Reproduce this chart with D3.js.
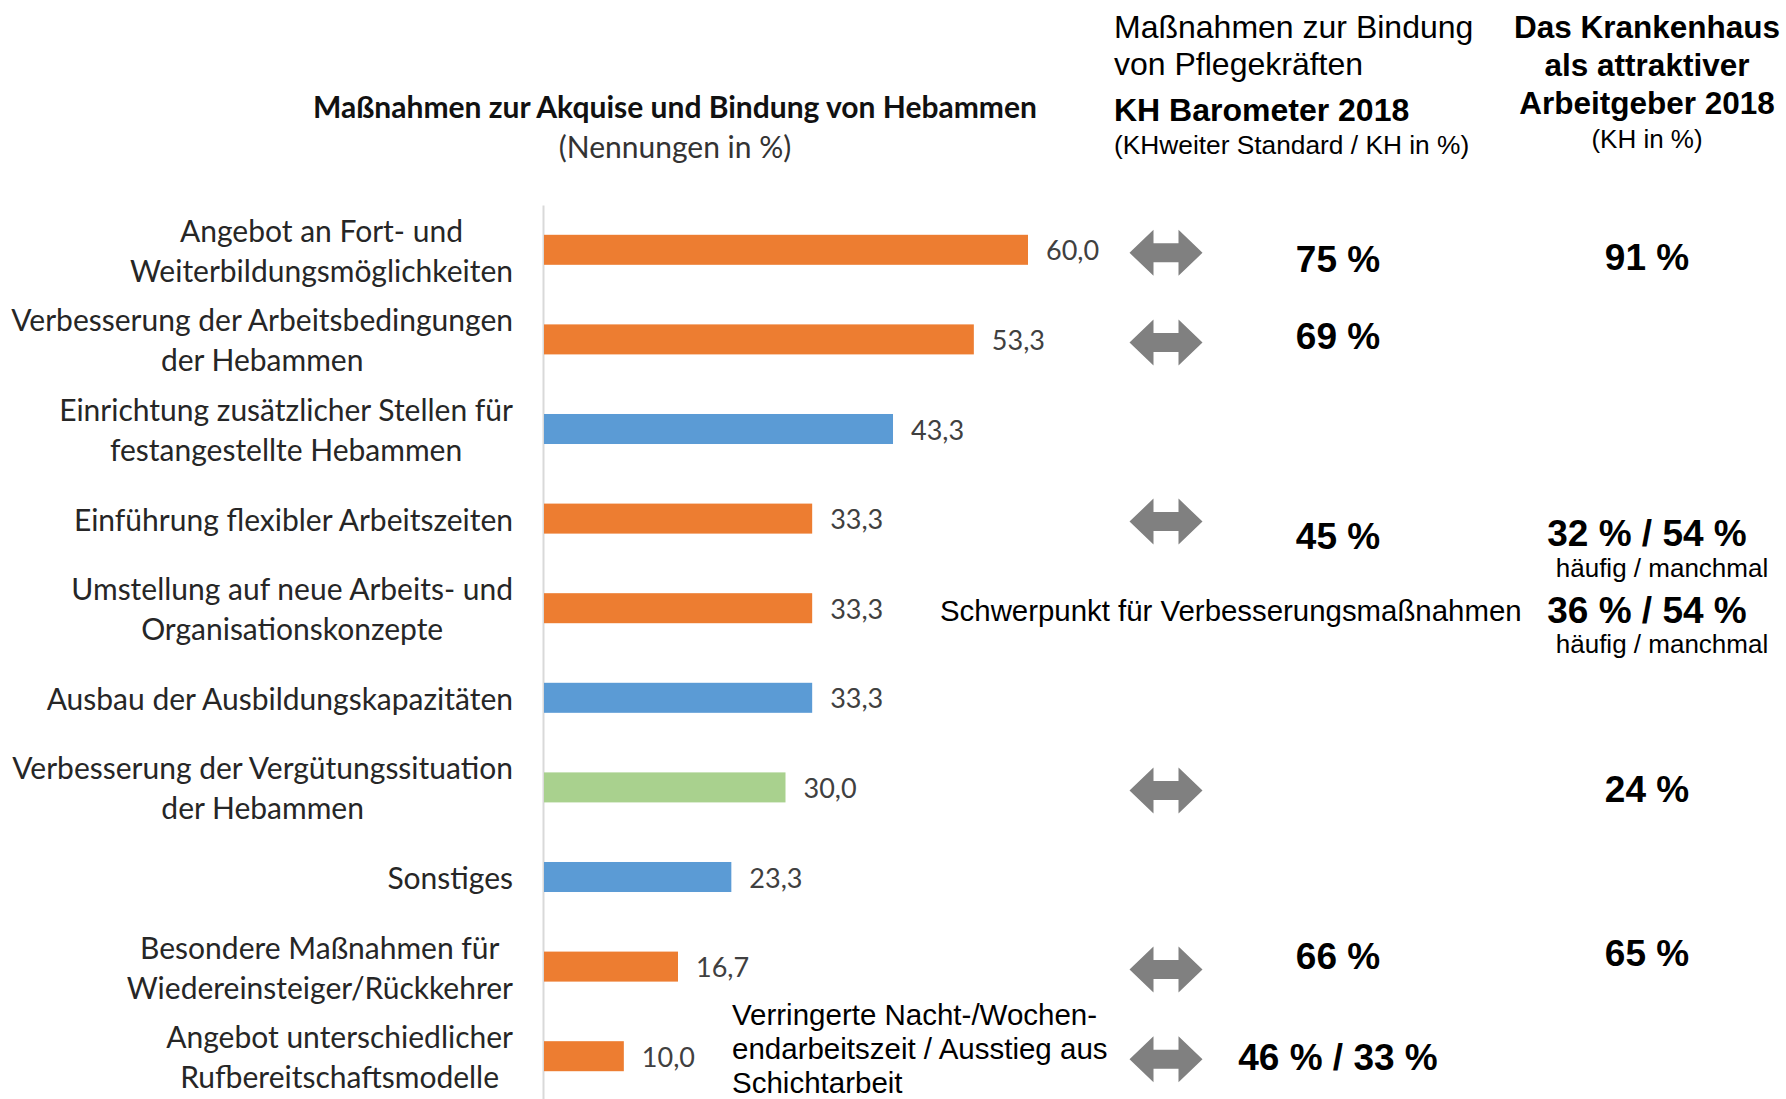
<!DOCTYPE html>
<html lang="de">
<head>
<meta charset="utf-8">
<title>Maßnahmen zur Akquise und Bindung von Hebammen</title>
<script src="https://cdn.jsdelivr.net/npm/d3@7"></script>
<style>
  body { margin: 0; background: #fff; }
  svg { display: block; background: #fff; }
  .cat { font-family: Lato, "Open Sans", sans-serif; font-size: 30px; fill: #262626; }
  .val { font-family: Lato, "Open Sans", sans-serif; font-size: 27px; fill: #404040; }
  .arial { font-family: "Liberation Sans", Arial, sans-serif; fill: #000; }
</style>
</head>
<body>
<svg id="chart" width="1786" height="1099"></svg>
<script>
// Kategorien (Zeilenumbrüche wie im Original)
const categories = [
  ["Angebot an Fort- und", "Weiterbildungsmöglichkeiten"],
  ["Verbesserung der Arbeitsbedingungen", "der Hebammen"],
  ["Einrichtung zusätzlicher Stellen für", "festangestellte Hebammen"],
  ["Einführung flexibler Arbeitszeiten"],
  ["Umstellung auf neue Arbeits- und", "Organisationskonzepte"],
  ["Ausbau der Ausbildungskapazitäten"],
  ["Verbesserung der Vergütungssituation", "der Hebammen"],
  ["Sonstiges"],
  ["Besondere Maßnahmen für", "Wiedereinsteiger/Rückkehrer"],
  ["Angebot unterschiedlicher", "Rufbereitschaftsmodelle"]
];

// Nennungen in %
const values = [60.0, 53.3, 43.3, 33.3, 33.3, 33.3, 30.0, 23.3, 16.7, 10.0];

// Farbgruppe je Balken
const barGroup = ["orange", "orange", "blue", "orange", "orange", "blue", "green", "blue", "orange", "orange"];

// Vergleich KH Barometer 2018 (Spalte Mitte)
const barometer = ["75 %", "69 %", "", "45 %", "", "", "", "", "66 %", "46 % / 33 %"];

// Vergleich "Das Krankenhaus als attraktiver Arbeitgeber 2018" (Spalte rechts)
const arbeitgeber = ["91 %", "", "", "32 % / 54 %", "36 % / 54 %", "", "24 %", "", "65 %", ""];
const arbeitgeberSub = ["", "", "", "häufig / manchmal", "häufig / manchmal", "", "", "", "", ""];

// Zeilen mit Doppelpfeil
const hasArrow = [true, true, false, true, false, false, true, false, true, true];

const focusNote = "Schwerpunkt für Verbesserungsmaßnahmen";
const shiftNote = ["Verringerte Nacht-/Wochen-", "endarbeitszeit / Ausstieg aus", "Schichtarbeit"];

const colors = { orange: "#ED7D31", blue: "#5B9BD5", green: "#A9D18E" };

const de = d3.formatLocale({ decimal: ",", thousands: ".", grouping: [3], currency: ["", " €"] });
const fmt = de.format(".1f");

const svg = d3.select("#chart");
const idx = d3.range(values.length);

const x = d3.scaleLinear().domain([0, 60]).range([543, 1028]);
const y = d3.scaleBand().domain(idx).range([205, 1101]).paddingInner(0.665).paddingOuter(0.3325);
const cy = i => y(i) + y.bandwidth() / 2;

// Achse (nur Linie)
const axis = svg.append("g")
    .attr("transform", `translate(${x(0)},0)`)
    .call(d3.axisLeft(y).tickSize(0).tickSizeOuter(0).tickFormat(""));
axis.select(".domain").attr("stroke", "#d9d9d9").attr("stroke-width", 2);

// Balken
svg.append("g").selectAll("rect")
    .data(idx)
    .join("rect")
    .attr("x", x(0) + 1)
    .attr("y", i => y(i))
    .attr("width", i => x(values[i]) - x(0) - 1)
    .attr("height", y.bandwidth())
    .attr("fill", i => colors[barGroup[i]]);

// Werte
svg.append("g").selectAll("text")
    .data(idx)
    .join("text")
    .attr("class", "val")
    .attr("x", i => x(values[i]) + 18)
    .attr("y", i => cy(i))
    .attr("dominant-baseline", "central")
    .text(i => fmt(values[i]));

// Kategorienbeschriftung: zentriert, breiteste Zeile rechtsbündig
const labelRight = 513;
const lineGap = 40;
idx.forEach(i => {
    const lines = categories[i];
    const g = svg.append("g");
    const t = g.selectAll("text")
        .data(lines)
        .join("text")
        .attr("class", "cat")
        .attr("text-anchor", "middle")
        .attr("dominant-baseline", "central")
        .attr("y", (d, k) => cy(i) + (k - (lines.length - 1) / 2) * lineGap)
        .text(d => d);
    let maxW = 0;
    t.each(function() { maxW = Math.max(maxW, this.getComputedTextLength()); });
    t.attr("x", labelRight - maxW / 2);
});

// Titel links
svg.append("text")
    .attr("x", 675).attr("y", 106)
    .attr("text-anchor", "middle").attr("dominant-baseline", "central")
    .style("font-family", "Lato, sans-serif").style("font-weight", "bold")
    .style("font-size", "30px").style("fill", "#111")
    .text("Maßnahmen zur Akquise und Bindung von Hebammen");
svg.append("text")
    .attr("x", 675).attr("y", 146)
    .attr("text-anchor", "middle").attr("dominant-baseline", "central")
    .style("font-family", "Lato, sans-serif")
    .style("font-size", "30px").style("fill", "#333")
    .text("(Nennungen in %)");

// Kopf Mitte
const midHead = [
    { t: "Maßnahmen zur Bindung", y: 27, s: 32, w: "normal" },
    { t: "von Pflegekräften", y: 64, s: 32, w: "normal" },
    { t: "KH Barometer 2018", y: 110, s: 32, w: "bold" },
    { t: "(KHweiter Standard / KH in %)", y: 145, s: 26.3, w: "normal" }
];
svg.append("g").selectAll("text")
    .data(midHead)
    .join("text")
    .attr("class", "arial")
    .attr("x", 1114).attr("y", d => d.y)
    .attr("dominant-baseline", "central")
    .style("font-size", d => d.s + "px").style("font-weight", d => d.w)
    .text(d => d.t);

// Kopf rechts
const rightHead = [
    { t: "Das Krankenhaus", y: 27, s: 31.5, w: "bold" },
    { t: "als attraktiver", y: 65, s: 31.5, w: "bold" },
    { t: "Arbeitgeber 2018", y: 103, s: 31.5, w: "bold" },
    { t: "(KH in %)", y: 139, s: 26, w: "normal" }
];
svg.append("g").selectAll("text")
    .data(rightHead)
    .join("text")
    .attr("class", "arial")
    .attr("x", 1647).attr("y", d => d.y)
    .attr("text-anchor", "middle")
    .attr("dominant-baseline", "central")
    .style("font-size", d => d.s + "px").style("font-weight", d => d.w)
    .text(d => d.t);

// Doppelpfeile
const arrowPath = (w, h, sh, hl) => {
    const a = w / 2, b = h / 2, c = sh / 2;
    return `M${-a},0 L${-a + hl},${-b} L${-a + hl},${-c} L${a - hl},${-c} L${a - hl},${-b} L${a},0 ` +
           `L${a - hl},${b} L${a - hl},${c} L${-a + hl},${c} L${-a + hl},${b} Z`;
};
svg.append("g").selectAll("path")
    .data(idx.filter(i => hasArrow[i]))
    .join("path")
    .attr("transform", i => `translate(1166,${cy(i) + 3})`)
    .attr("d", arrowPath(73, 46, 19, 24))
    .attr("fill", "#808080");

// kleine manuelle Verschiebungen der Textfelder (wie im Original)
const midNudge = { 0: 10, 1: -3, 3: 18, 8: -10, 9: 1 };
const rightNudge = { 0: 8, 3: 15, 4: 2, 6: 2, 8: -13 };

svg.append("g").selectAll("text")
    .data(idx.filter(i => barometer[i]))
    .join("text")
    .attr("class", "arial")
    .attr("x", 1338).attr("y", i => cy(i) + (midNudge[i] || 0))
    .attr("text-anchor", "middle").attr("dominant-baseline", "central")
    .style("font-size", "37px").style("font-weight", "bold")
    .text(i => barometer[i]);

svg.append("g").selectAll("text")
    .data(idx.filter(i => arbeitgeber[i]))
    .join("text")
    .attr("class", "arial")
    .attr("x", 1647).attr("y", i => cy(i) + (rightNudge[i] || 0))
    .attr("text-anchor", "middle").attr("dominant-baseline", "central")
    .style("font-size", "37px").style("font-weight", "bold")
    .text(i => arbeitgeber[i]);

svg.append("g").selectAll("text")
    .data(idx.filter(i => arbeitgeberSub[i]))
    .join("text")
    .attr("class", "arial")
    .attr("x", 1662).attr("y", i => cy(i) + (rightNudge[i] || 0) + 34)
    .attr("text-anchor", "middle").attr("dominant-baseline", "central")
    .style("font-size", "26px")
    .text(i => arbeitgeberSub[i]);

// Schwerpunkt-Hinweis (Zeile "Umstellung ...")
svg.append("text")
    .attr("class", "arial")
    .attr("x", 940).attr("y", cy(4) + 2)
    .attr("dominant-baseline", "central")
    .style("font-size", "29.4px")
    .text(focusNote);

// Hinweis Schichtarbeit (letzte Zeile)
svg.append("g").selectAll("text")
    .data(shiftNote)
    .join("text")
    .attr("class", "arial")
    .attr("x", 732).attr("y", (d, k) => cy(9) + (k - 1) * 34 - 8)
    .attr("dominant-baseline", "central")
    .style("font-size", "29.5px")
    .text(d => d);
</script>
</body>
</html>
